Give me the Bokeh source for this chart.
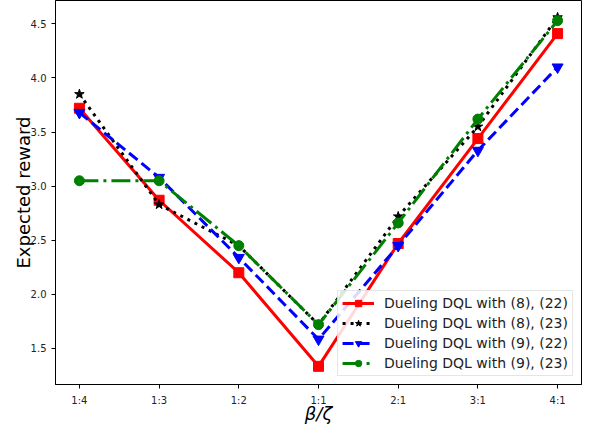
from bokeh.plotting import figure
from bokeh.models import FixedTicker, Range1d, Legend, LegendItem, NumeralTickFormatter
from bokeh.embed import file_html
from bokeh.resources import INLINE

categories = ["1:4", "1:3", "1:2", "1:1", "2:1", "3:1", "4:1"]
red_8_22 = [3.72, 2.87, 2.20, 1.335, 2.47, 3.44, 4.41]
black_8_23 = [3.85, 2.83, 2.45, 1.72, 2.72, 3.55, 4.56]
blue_9_22 = [3.68, 3.08, 2.34, 1.585, 2.45, 3.33, 4.10]
green_9_23 = [3.05, 3.05, 2.45, 1.72, 2.66, 3.62, 4.53]
labels = ["Dueling DQL with (8), (22)", "Dueling DQL with (8), (23)",
          "Dueling DQL with (9), (22)", "Dueling DQL with (9), (23)"]
y_ticks = [1.5, 2.0, 2.5, 3.0, 3.5, 4.0, 4.5]

xs = list(range(len(categories)))

p = figure(width=582, height=426, output_backend="svg", toolbar_location=None,
           x_range=Range1d(-0.3, 6.3), y_range=Range1d(1.167, 4.716),
           min_border_left=55, min_border_right=1, min_border_top=0, min_border_bottom=30)
p.xgrid.visible = False
p.ygrid.visible = False
p.outline_line_color = "black"
p.outline_line_width = 1

series = [
    (red_8_22, "red", "solid", "square", 10),
    (black_8_23, "black", "3 5", "star", 10),
    (blue_9_22, "blue", "11 5", "inverted_triangle", 11),
    (green_9_23, "green", "19 5 3 5", "circle", 10),
]
items = []
for (ys, col, dash, marker, sz), lab in zip(series, labels):
    l = p.line(xs, ys, line_color=col, line_width=3, line_dash=dash)
    s = p.scatter(xs, ys, marker=marker, size=sz, fill_color=col, line_color=col)
    items.append(LegendItem(label=lab, renderers=[l, s]))

legend = Legend(items=items, location="bottom_right")
legend.label_text_font = "DejaVu Sans"
legend.label_text_font_size = "14px"
legend.label_text_color = "#222222"
legend.border_line_color = "#cccccc"
legend.border_line_width = 1
legend.background_fill_alpha = 0.85
legend.glyph_width = 32
legend.glyph_height = 16
legend.label_height = 16
legend.spacing = 4
legend.padding = 4
legend.margin = 8
legend.label_standoff = 10
p.add_layout(legend)

p.xaxis.ticker = FixedTicker(ticks=xs)
p.xaxis.major_label_overrides = {i: c for i, c in enumerate(categories)}
p.yaxis.ticker = FixedTicker(ticks=y_ticks)
p.yaxis.formatter = NumeralTickFormatter(format="0.0")
for ax in (p.xaxis[0], p.yaxis[0]):
    ax.major_label_text_font = "DejaVu Sans"
    ax.major_label_text_font_size = "10px"
    ax.major_label_text_color = "#222222"
    ax.major_label_text_line_height = 1.0
    ax.major_tick_in = 0
    ax.major_tick_out = 4
    ax.minor_tick_line_color = None
    ax.axis_line_color = "black"
    ax.axis_label_text_font = "DejaVu Sans"
    ax.axis_label_text_font_size = "18px"
    ax.axis_label_text_font_style = "normal"
    ax.axis_label_text_color = "black"
    ax.axis_label_text_line_height = 1.0
p.xaxis.axis_label = "β/ζ"
p.xaxis.axis_label_text_font_style = "italic"
p.xaxis.axis_label_standoff = -6
p.yaxis.axis_label = "Expected reward"
p.yaxis.axis_label_standoff = -6
p.xaxis.major_label_standoff = 6
p.yaxis.major_label_standoff = 5

open("out.html", "w").write(file_html(p, INLINE))
